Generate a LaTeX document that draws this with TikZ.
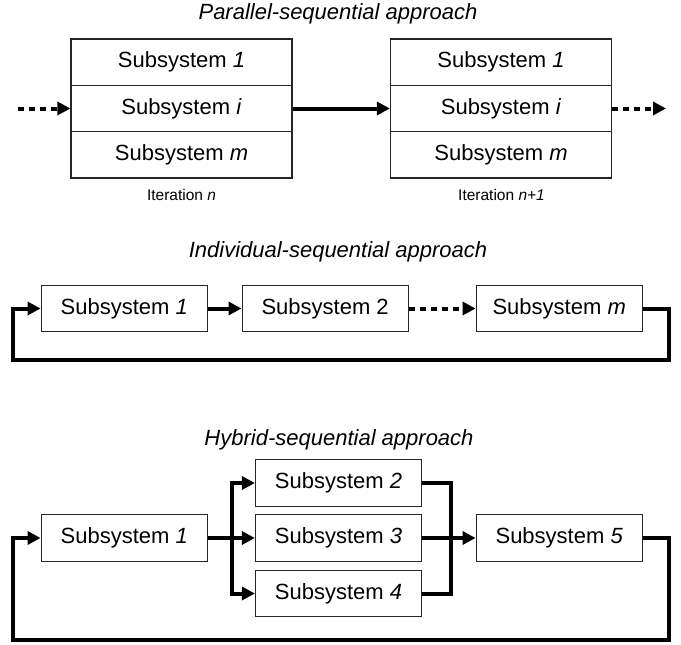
\documentclass[tikz,border=0pt]{standalone}
\usepackage{fontspec}
\setmainfont{Liberation Sans}
\usetikzlibrary{arrows.meta}

\begin{document}
\begin{tikzpicture}[x=1pt, y=-1pt,
boxnode/.style={draw=black!85, line width=1.2pt, minimum height=46.3pt, inner sep=0pt, font=\fontsize{22}{24}\selectfont},
stacknode/.style={boxnode, minimum width=221pt},
rownode/.style={boxnode, minimum width=166pt},
titlenode/.style={font=\fontsize{22}{24}\selectfont\itshape},
iternode/.style={font=\fontsize{15.5}{17}\selectfont},
flow/.style={line width=4pt, -{Triangle[length=13pt,width=13pt]}},
dotflow/.style={flow, dash pattern=on 6pt off 5pt},
]
\useasboundingbox (0,0) rectangle (681,645);

%Nodes
\node[titlenode] (par_title) at (338,14) {Parallel-sequential approach};
\node[stacknode] (left_one) at (181.5,62.2) {Subsystem \textit{1}};
\node[stacknode] (left_i) at (181.5,108.5) {Subsystem \textit{i}};
\node[stacknode] (left_m) at (181.5,154.8) {Subsystem \textit{m}};
\node[stacknode] (right_one) at (501,62.2) {Subsystem \textit{1}};
\node[stacknode] (right_i) at (501,108.5) {Subsystem \textit{i}};
\node[stacknode] (right_m) at (501,154.8) {Subsystem \textit{m}};
\node[iternode] (iter_n) at (181.5,195) {Iteration \textit{n}};
\node[iternode] (iter_next) at (501.5,195) {Iteration \textit{n+1}};
\coordinate (par_in) at (18,108.5);
\coordinate (par_out) at (666,108.5);

\node[titlenode] (ind_title) at (338,252) {Individual-sequential approach};
\node[rownode] (ind_one) at (124.2,308.5) {Subsystem \textit{1}};
\node[rownode] (ind_two) at (325.1,308.5) {Subsystem 2};
\node[rownode] (ind_m) at (559.2,308.5) {Subsystem \textit{m}};
\coordinate (ind_loop_r) at (669,360);
\coordinate (ind_loop_l) at (13,360);

\node[titlenode] (hyb_title) at (339,440) {Hybrid-sequential approach};
\node[rownode] (hyb_one) at (124.2,538) {Subsystem \textit{1}};
\node[rownode] (hyb_two) at (338.5,483) {Subsystem \textit{2}};
\node[rownode] (hyb_three) at (338.5,538) {Subsystem \textit{3}};
\node[rownode] (hyb_four) at (338.5,593.5) {Subsystem \textit{4}};
\node[rownode] (hyb_five) at (559.2,538) {Subsystem \textit{5}};
\coordinate (hyb_split) at (231.5,538);
\coordinate (hyb_join) at (451,538);
\coordinate (hyb_loop_r) at (669,640);
\coordinate (hyb_loop_l) at (13,640);

%Lines
\draw[dotflow] (par_in) -- (left_i.west);
\draw[flow] (left_i.east) -- (right_i.west);
\draw[dotflow] (right_i.east) -- (par_out);

\draw[flow] (ind_one.east) -- (ind_two.west);
\draw[dotflow] (ind_two.east) -- (ind_m.west);
\draw[flow] (ind_m.east) -| (ind_loop_r) -- (ind_loop_l) |- (ind_one.west);

\draw[line width=4pt] (hyb_one.east) -- (hyb_split);
\draw[flow] (hyb_split) |- (hyb_two.west);
\draw[flow] (hyb_split) -- (hyb_three.west);
\draw[flow] (hyb_split) |- (hyb_four.west);
\draw[line width=4pt] (hyb_two.east) -| (hyb_join);
\draw[line width=4pt] (hyb_four.east) -| (hyb_join);
\draw[flow] (hyb_three.east) -- (hyb_five.west);
\draw[flow] (hyb_five.east) -| (hyb_loop_r) -- (hyb_loop_l) |- (hyb_one.west);

\end{tikzpicture}
\end{document}
